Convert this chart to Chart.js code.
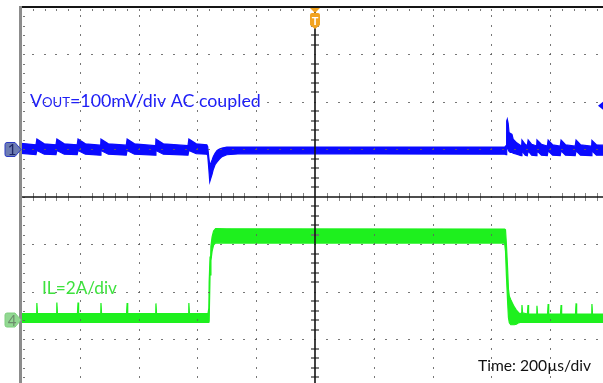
<!DOCTYPE html>
<html>
<head>
<meta charset="utf-8">
<script src="https://cdn.jsdelivr.net/npm/chart.js@4.4.0/dist/chart.umd.min.js"></script>
<style>
  html, body { margin: 0; padding: 0; background: #ffffff; overflow: hidden; }
  #wrap { position: relative; width: 603px; height: 383px; }
</style>
</head>
<body>
<div id="wrap"><canvas id="scope" width="603" height="383"></canvas></div>
<script>
// Scope settings
const TIME_PER_DIV = 200;      // µs per division
const VOUT_PER_DIV = 100;      // mV per division
const IL_PER_DIV = 2;          // A per division
const CH1_OFFSET_DIV = 1.0;    // channel 1 ground marker position (divisions)
const CH4_OFFSET_DIV = -2.59;  // channel 4 ground marker position (divisions)
const CH1_LEVEL_DIV = 1.92;    // trigger level marker on the right edge

// Channel 1: output voltage ripple (AC coupled), upper / lower envelope of the trace
const voutTime = [-1000, -949, -946, -921, -881, -878, -853, -809, -806, -781, -731, -728, -703,
  -642, -639, -614, -544, -541, -516, -432, -429, -404,
  -368, -365, -361, -358, -355, -350, -346, -340, -333, -325, -316, -300, -250, 645,
  650, 652, 654, 657, 660, 664, 670, 674, 686,
  701, 704, 715, 722, 725, 737, 752, 755, 770, 790, 793, 808, 834, 837, 852, 885, 888, 903, 939, 942, 957, 980];
const voutMax = [13, 10, 22, 12, 10, 22, 12, 10, 22, 12, 9, 22, 12,
  9, 22, 12, 8, 22, 12, 8, 22, 12,
  10, 6, -18, -32, -30, -22, -15, -8, -2, 1, 3, 5, 5, 5,
  8, 60, 64, 55, 36, 34, 32, 22, 14,
  8, 20, 11, 8, 20, 11, 8, 20, 11, 7, 20, 10, 7, 20, 10, 7, 20, 10, 7, 19, 10, 9];
const voutMin = [-8, -11, -2, -10, -11, -2, -10, -11, -2, -10, -12, -2, -10,
  -12, -2, -10, -12, -2, -10, -12, -2, -9,
  -10, -12, -42, -68, -62, -52, -42, -32, -26, -20, -15, -11, -9, -10,
  -11, 5, 8, 0, -4, -6, -6, -8, -10,
  -13, -3, -12, -13, -3, -12, -13, -3, -12, -13, -3, -12, -13, -3, -12, -13, -3, -12, -13, -3, -12, -12];

// Channel 4: inductor current, upper / lower envelope of the trace
const ilTime = [-1000, -948, -946, -944, -880, -878, -876, -808, -806, -804, -730, -728, -726,
  -641, -639, -637, -543, -541, -539, -431, -429, -427,
  -364, -361, -360, -357, -354, -350, -345, -338, -300, 645,
  648, 651, 655, 658, 661, 666, 672, 678, 685, 692, 698,
  702, 704, 706, 722.5, 724.5, 726.5, 753, 755, 757, 791, 793, 795, 835, 837, 839, 886, 888, 890, 940, 942, 944, 980];
const ilMax = [0.27, 0.27, 0.72, 0.27, 0.27, 0.74, 0.27, 0.27, 0.74, 0.27, 0.27, 0.72, 0.27,
  0.27, 0.72, 0.27, 0.27, 0.70, 0.27, 0.27, 0.72, 0.27,
  0.27, 0.5, 1.6, 2.65, 3.1, 3.5, 3.75, 3.85, 3.84, 3.83,
  3.8, 3.2, 2.2, 1.3, 1.0, 0.85, 0.7, 0.55, 0.42, 0.32, 0.25,
  0.3, 0.63, 0.3, 0.25, 0.63, 0.25, 0.25, 0.6, 0.25, 0.25, 0.67, 0.25, 0.25, 0.63, 0.25, 0.25, 0.70, 0.25, 0.25, 0.67, 0.25, 0.25];
const ilMin = [-0.1, -0.1, -0.1, -0.1, -0.1, -0.1, -0.1, -0.1, -0.1, -0.1, -0.1, -0.1, -0.1,
  -0.1, -0.1, -0.1, -0.1, -0.1, -0.1, -0.1, -0.1, -0.1,
  -0.1, -0.1, -0.05, 1.9, 2.5, 2.9, 3.15, 3.25, 3.24, 3.24,
  2.9, 1.9, 0.8, 0.1, -0.12, -0.2, -0.2, -0.2, -0.18, -0.12, -0.1,
  -0.1, -0.1, -0.1, -0.1, -0.1, -0.1, -0.1, -0.1, -0.1, -0.1, -0.1, -0.1, -0.1, -0.1, -0.1, -0.1, -0.1, -0.1, -0.1, -0.1, -0.1, -0.1];

// Annotations
const channelTags = ['1', '4'];
const voutLabel = ['V', 'OUT', '=100mV/div AC coupled'];
const ilLabel = 'IL=2A/div';
const timeLabel = 'Time: 200\u00b5s/div';

const BLUE = '#0a0aff';
const GREEN = '#1ef01e';
const FONT = 'Lato, "Open Sans", "DejaVu Sans", sans-serif';

function toDivs(t, v, perDiv, offset) {
  return t.map((x, i) => ({ x, y: v[i] / perDiv + offset }));
}

function trace(label, data, color, fill) {
  return {
    label, data, borderColor: color, backgroundColor: color,
    borderWidth: 1.2, pointRadius: 0, tension: 0, fill
  };
}

// Fit a run of text parts (with relative sizes) to a target width
function fitSize(ctx, parts, target, base) {
  let w = 0;
  parts.forEach(p => { ctx.font = (base * p.s) + 'px ' + FONT; w += ctx.measureText(p.t).width; });
  return base * target / w;
}

const graticule = {
  id: 'graticule',
  afterDatasetsDraw(chart) {
    const { ctx, chartArea: a, scales: { x, y } } = chart;
    const minorX = TIME_PER_DIV / 5;
    ctx.save();
    // dotted major division lines
    ctx.fillStyle = 'rgba(95,95,95,0.85)';
    for (let k = 1; k < 10; k++) {
      if (k === 5) continue;
      const px = Math.round(x.getPixelForValue(-1000 + k * TIME_PER_DIV));
      for (let m = 1; m <= 40; m++) {
        const py = y.getPixelForValue(4 - m * 0.2);
        if (py > a.bottom) break;
        ctx.fillRect(px, Math.round(py) - 1, 1, 2);
      }
    }
    for (let k = -3; k <= 3; k++) {
      if (k === 0) continue;
      const py = Math.round(y.getPixelForValue(k));
      for (let m = 1; m <= 50; m++) {
        const px = x.getPixelForValue(-1000 + m * minorX);
        if (px > a.right) break;
        ctx.fillRect(Math.round(px) - 1, py, 2, 1);
      }
    }
    // small ticks along top and left frame
    for (let m = 1; m <= 50; m++) {
      const px = x.getPixelForValue(-1000 + m * minorX);
      if (px > a.right) break;
      ctx.fillRect(Math.round(px), a.top + 2, 1, 2);
    }
    for (let m = 1; m <= 40; m++) {
      const py = y.getPixelForValue(4 - m * 0.2);
      if (py > a.bottom) break;
      ctx.fillRect(a.left + 2, Math.round(py), 2, 1);
    }
    // centre axes with minor ticks
    const cx = x.getPixelForValue(0);
    const cy = y.getPixelForValue(0);
    ctx.fillStyle = 'rgba(110,110,110,0.85)';
    for (let m = -20; m <= 20; m++) {
      if (m % 5 === 0) continue;
      const py = Math.round(y.getPixelForValue(m * 0.2));
      if (py > a.bottom) continue;
      ctx.fillRect(Math.round(cx) - 4, py - 1, 8, 2);
    }
    for (let m = -25; m <= 25; m++) {
      if (m % 5 === 0) continue;
      const px = Math.round(x.getPixelForValue(m * minorX));
      if (px > a.right) continue;
      ctx.fillRect(px, Math.round(cy) - 4, 1, 8);
    }
    ctx.strokeStyle = '#151515';
    ctx.lineWidth = 1.6;
    ctx.beginPath();
    ctx.moveTo(cx, a.top); ctx.lineTo(cx, a.bottom);
    ctx.moveTo(a.left, cy); ctx.lineTo(a.right, cy);
    ctx.stroke();
    // frame
    ctx.fillStyle = '#151515';
    ctx.fillRect(a.left, a.top - 1, a.right - a.left, 2);
    ctx.fillStyle = '#8c8c8c';
    ctx.fillRect(a.left - 2, a.top - 1, 3, a.bottom - a.top + 1);
    ctx.restore();
  }
};

const markers = {
  id: 'markers',
  afterDraw(chart) {
    const { ctx, chartArea: a, scales: { x, y } } = chart;
    ctx.save();

    // channel ground markers
    function tag(yc, fill, stroke, textColor, txt) {
      ctx.beginPath();
      ctx.moveTo(7, yc - 7);
      ctx.lineTo(15, yc - 7);
      ctx.lineTo(21, yc);
      ctx.lineTo(15, yc + 7);
      ctx.lineTo(7, yc + 7);
      ctx.quadraticCurveTo(5, yc + 7, 5, yc + 5);
      ctx.lineTo(5, yc - 5);
      ctx.quadraticCurveTo(5, yc - 7, 7, yc - 7);
      ctx.closePath();
      ctx.fillStyle = fill; ctx.fill();
      ctx.strokeStyle = stroke; ctx.lineWidth = 1; ctx.stroke();
      ctx.fillStyle = textColor;
      ctx.font = '15px ' + FONT;
      ctx.textAlign = 'center'; ctx.textBaseline = 'middle';
      ctx.fillText(txt, 12, yc + 1);
    }
    tag(y.getPixelForValue(CH1_OFFSET_DIV), '#6d7cb2', '#2c3cc4', '#1c2466', channelTags[0]);
    tag(y.getPixelForValue(CH4_OFFSET_DIV), '#92d892', '#7fcf7f', '#6c8c6c', channelTags[1]);

    // trigger position marker
    const tx = x.getPixelForValue(0);
    ctx.fillStyle = '#f2a31e';
    ctx.beginPath();
    ctx.moveTo(tx - 5, a.top + 1); ctx.lineTo(tx + 5, a.top + 1); ctx.lineTo(tx, a.top + 6);
    ctx.closePath(); ctx.fill();
    ctx.beginPath();
    ctx.moveTo(tx - 5, 15);
    ctx.quadraticCurveTo(tx - 5, 13, tx - 3, 13);
    ctx.lineTo(tx + 3, 13);
    ctx.quadraticCurveTo(tx + 5, 13, tx + 5, 15);
    ctx.lineTo(tx + 5, 25);
    ctx.lineTo(tx, 29);
    ctx.lineTo(tx - 5, 25);
    ctx.closePath(); ctx.fill();
    ctx.fillStyle = '#ffffff';
    ctx.font = 'bold 11px ' + FONT;
    ctx.textAlign = 'center'; ctx.textBaseline = 'alphabetic';
    ctx.fillText('T', tx, 25);

    // trigger level marker on the right edge
    const ly = y.getPixelForValue(CH1_LEVEL_DIV);
    ctx.fillStyle = BLUE;
    ctx.beginPath();
    ctx.moveTo(598, ly); ctx.lineTo(603, ly - 4); ctx.lineTo(603, ly + 4);
    ctx.closePath(); ctx.fill();

    // channel labels
    ctx.textAlign = 'left'; ctx.textBaseline = 'alphabetic';
    const vParts = [{ t: voutLabel[0], s: 1 }, { t: voutLabel[1], s: 0.74 }, { t: voutLabel[2], s: 1 }];
    const vs = fitSize(ctx, vParts, 231, 18);
    let px = 30;
    ctx.fillStyle = '#2020f6';
    vParts.forEach(p => {
      ctx.font = (vs * p.s) + 'px ' + FONT;
      ctx.fillText(p.t, px, 107);
      px += ctx.measureText(p.t).width;
    });

    const is = fitSize(ctx, [{ t: ilLabel, s: 1 }], 75, 18);
    ctx.font = is + 'px ' + FONT;
    ctx.fillStyle = '#3ee23e';
    ctx.fillText(ilLabel, 42, 294);

    const ts = fitSize(ctx, [{ t: timeLabel, s: 1 }], 113, 16);
    ctx.font = ts + 'px ' + FONT;
    ctx.fillStyle = '#111111';
    ctx.fillText(timeLabel, 478, 371);
    ctx.restore();
  }
};

new Chart(document.getElementById('scope'), {
  type: 'line',
  data: {
    datasets: [
      trace('VOUT max', toDivs(voutTime, voutMax, VOUT_PER_DIV, CH1_OFFSET_DIV), BLUE, false),
      trace('VOUT min', toDivs(voutTime, voutMin, VOUT_PER_DIV, CH1_OFFSET_DIV), BLUE, '-1'),
      trace('IL max', toDivs(ilTime, ilMax, IL_PER_DIV, CH4_OFFSET_DIV), GREEN, false),
      trace('IL min', toDivs(ilTime, ilMin, IL_PER_DIV, CH4_OFFSET_DIV), GREEN, '-1')
    ]
  },
  options: {
    responsive: false,
    animation: false,
    devicePixelRatio: 1,
    layout: { padding: { left: 21, top: 7, right: 0, bottom: 0 } },
    scales: {
      x: { type: 'linear', display: false, min: -1000, max: 979.6 },
      y: { type: 'linear', display: false, min: -3.916, max: 4 }
    },
    plugins: { legend: { display: false }, tooltip: { enabled: false }, title: { display: false } }
  },
  plugins: [graticule, markers]
});
</script>
</body>
</html>
